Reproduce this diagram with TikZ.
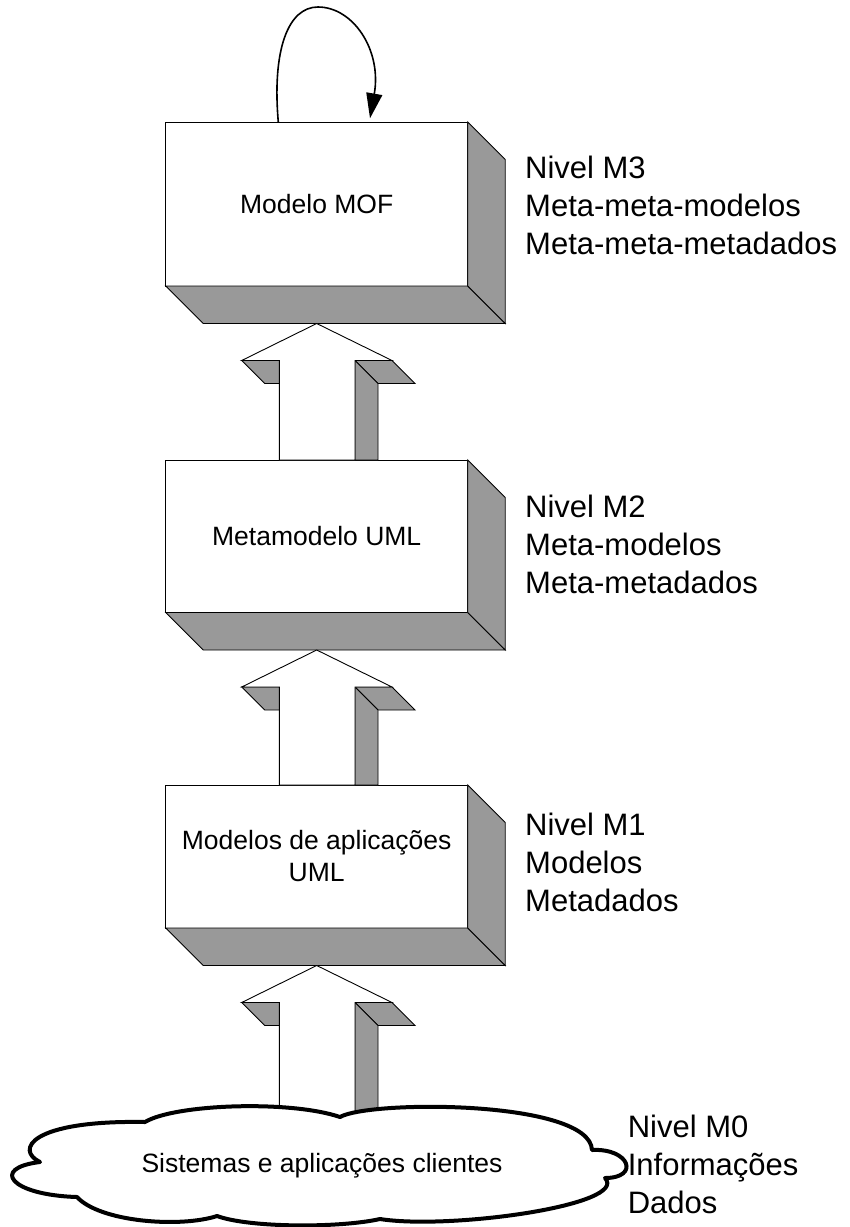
\documentclass[tikz,border=0pt]{standalone}
\usepackage{fontspec}
\setmainfont{Liberation Sans}
\usetikzlibrary{calc,arrows.meta}
\definecolor{sidegray}{RGB}{153,153,153}
\newcommand{\mofarrow}[2]{%
  \begin{scope}[shift={($(#1.south)+(0,37.5)$)}]
    \draw[shade3d] (-75,37) -- (-37.4,37) -- (-14.4,60) -- (-52,60) -- cycle;
    \draw[shade3d] (38.3,37) -- (75.3,37) -- (98.3,60) -- (61.3,60) -- cycle;
    \draw[shade3d] (38.3,37) -- (61.3,60) -- (61.3,#2) -- (38.3,#2) -- cycle;
    \draw[face] (0,0) -- (75.3,37) -- (38.3,37) -- (38.3,#2) -- (-37.4,#2) -- (-37.4,37) -- (-75,37) -- cycle;
  \end{scope}}
\newcommand{\boxsides}[1]{%
  \draw[shade3d] (#1.south west) -- (#1.south east) -- ($(#1.south east)+(37.5,37.5)$) -- ($(#1.south west)+(37.5,37.5)$) -- cycle;
  \draw[shade3d] (#1.north east) -- ($(#1.north east)+(37.5,37.5)$) -- ($(#1.south east)+(37.5,37.5)$) -- (#1.south east) -- cycle;}
\begin{document}
\begin{tikzpicture}[x=1pt,y=-1pt,
  face/.style={fill=white,draw=black,line width=0.9pt,line join=miter},
  shade3d/.style={fill=sidegray,draw=black,line width=0.9pt,line join=miter},
  levelbox/.style={draw=black,fill=white,line width=0.9pt,minimum width=302pt,inner sep=0pt,outer sep=0pt,align=center,font=\fontsize{26.5}{32}\selectfont},
  lvl/.style={font=\fontsize{31}{38}\selectfont,anchor=base west,inner sep=0pt},
]
\useasboundingbox (0,0) rectangle (850,1227);

% boxes
\node[levelbox,minimum height=164pt] (m3) at (316.7,204) {Modelo MOF};
\boxsides{m3}
\node[levelbox,minimum height=152.5pt] (m2) at (316.7,536.25) {Metamodelo UML};
\boxsides{m2}
\node[levelbox,minimum height=143pt] (m1) at (316.7,856.5) {Modelos de aplicações\\UML};
\boxsides{m1}

% 3D arrows between levels
\mofarrow{m3}{136.5}
\mofarrow{m2}{135}
\mofarrow{m1}{155}

% self loop on MOF
\coordinate (loopS) at ($(m3.north)+(-38.4,0)$);
\coordinate (loopE) at ($(m3.north)+(53.3,-3.7)$);
\draw[line width=1.6pt,-{Triangle[length=25pt,width=16pt]}] (loopS) .. controls (272,50) and (288,7) .. (318,7) .. controls (353,7) and (382,50) .. (loopE);

% cloud M0
\draw[line width=4pt,fill=white,line join=round] (145,1122) .. controls (175,1104) and (290,1100) .. (340,1117) .. controls (370,1100) and (590,1100) .. (592,1150) .. controls (630,1148) and (640,1178) .. (605,1178) .. controls (630,1205) and (450,1230) .. (380,1219) .. controls (340,1228) and (250,1228) .. (217,1216) .. controls (180,1228) and (100,1222) .. (77,1197) .. controls (10,1195) and (-10,1168) .. (40,1162) .. controls (15,1150) and (30,1120) .. (145,1122) -- cycle;
\node[anchor=base,inner sep=0pt,font=\fontsize{26.5}{32}\selectfont] (m0) at (322,1172) {Sistemas e aplicações clientes};

% level labels
\node[lvl] (l3a) at (525,178) {Nivel M3};
\node[lvl] (l3b) at (525,216) {Meta-meta-modelos};
\node[lvl] (l3c) at (525,254) {Meta-meta-metadados};
\node[lvl] (l2a) at (525,517) {Nivel M2};
\node[lvl] (l2b) at (525,555) {Meta-modelos};
\node[lvl] (l2c) at (525,593) {Meta-metadados};
\node[lvl] (l1a) at (525,835) {Nivel M1};
\node[lvl] (l1b) at (525,873) {Modelos};
\node[lvl] (l1c) at (525,911) {Metadados};
\node[lvl] (l0a) at (627.6,1137) {Nivel M0};
\node[lvl] (l0b) at (627.6,1175) {Informações};
\node[lvl] (l0c) at (627.6,1213) {Dados};
\end{tikzpicture}
\end{document}
